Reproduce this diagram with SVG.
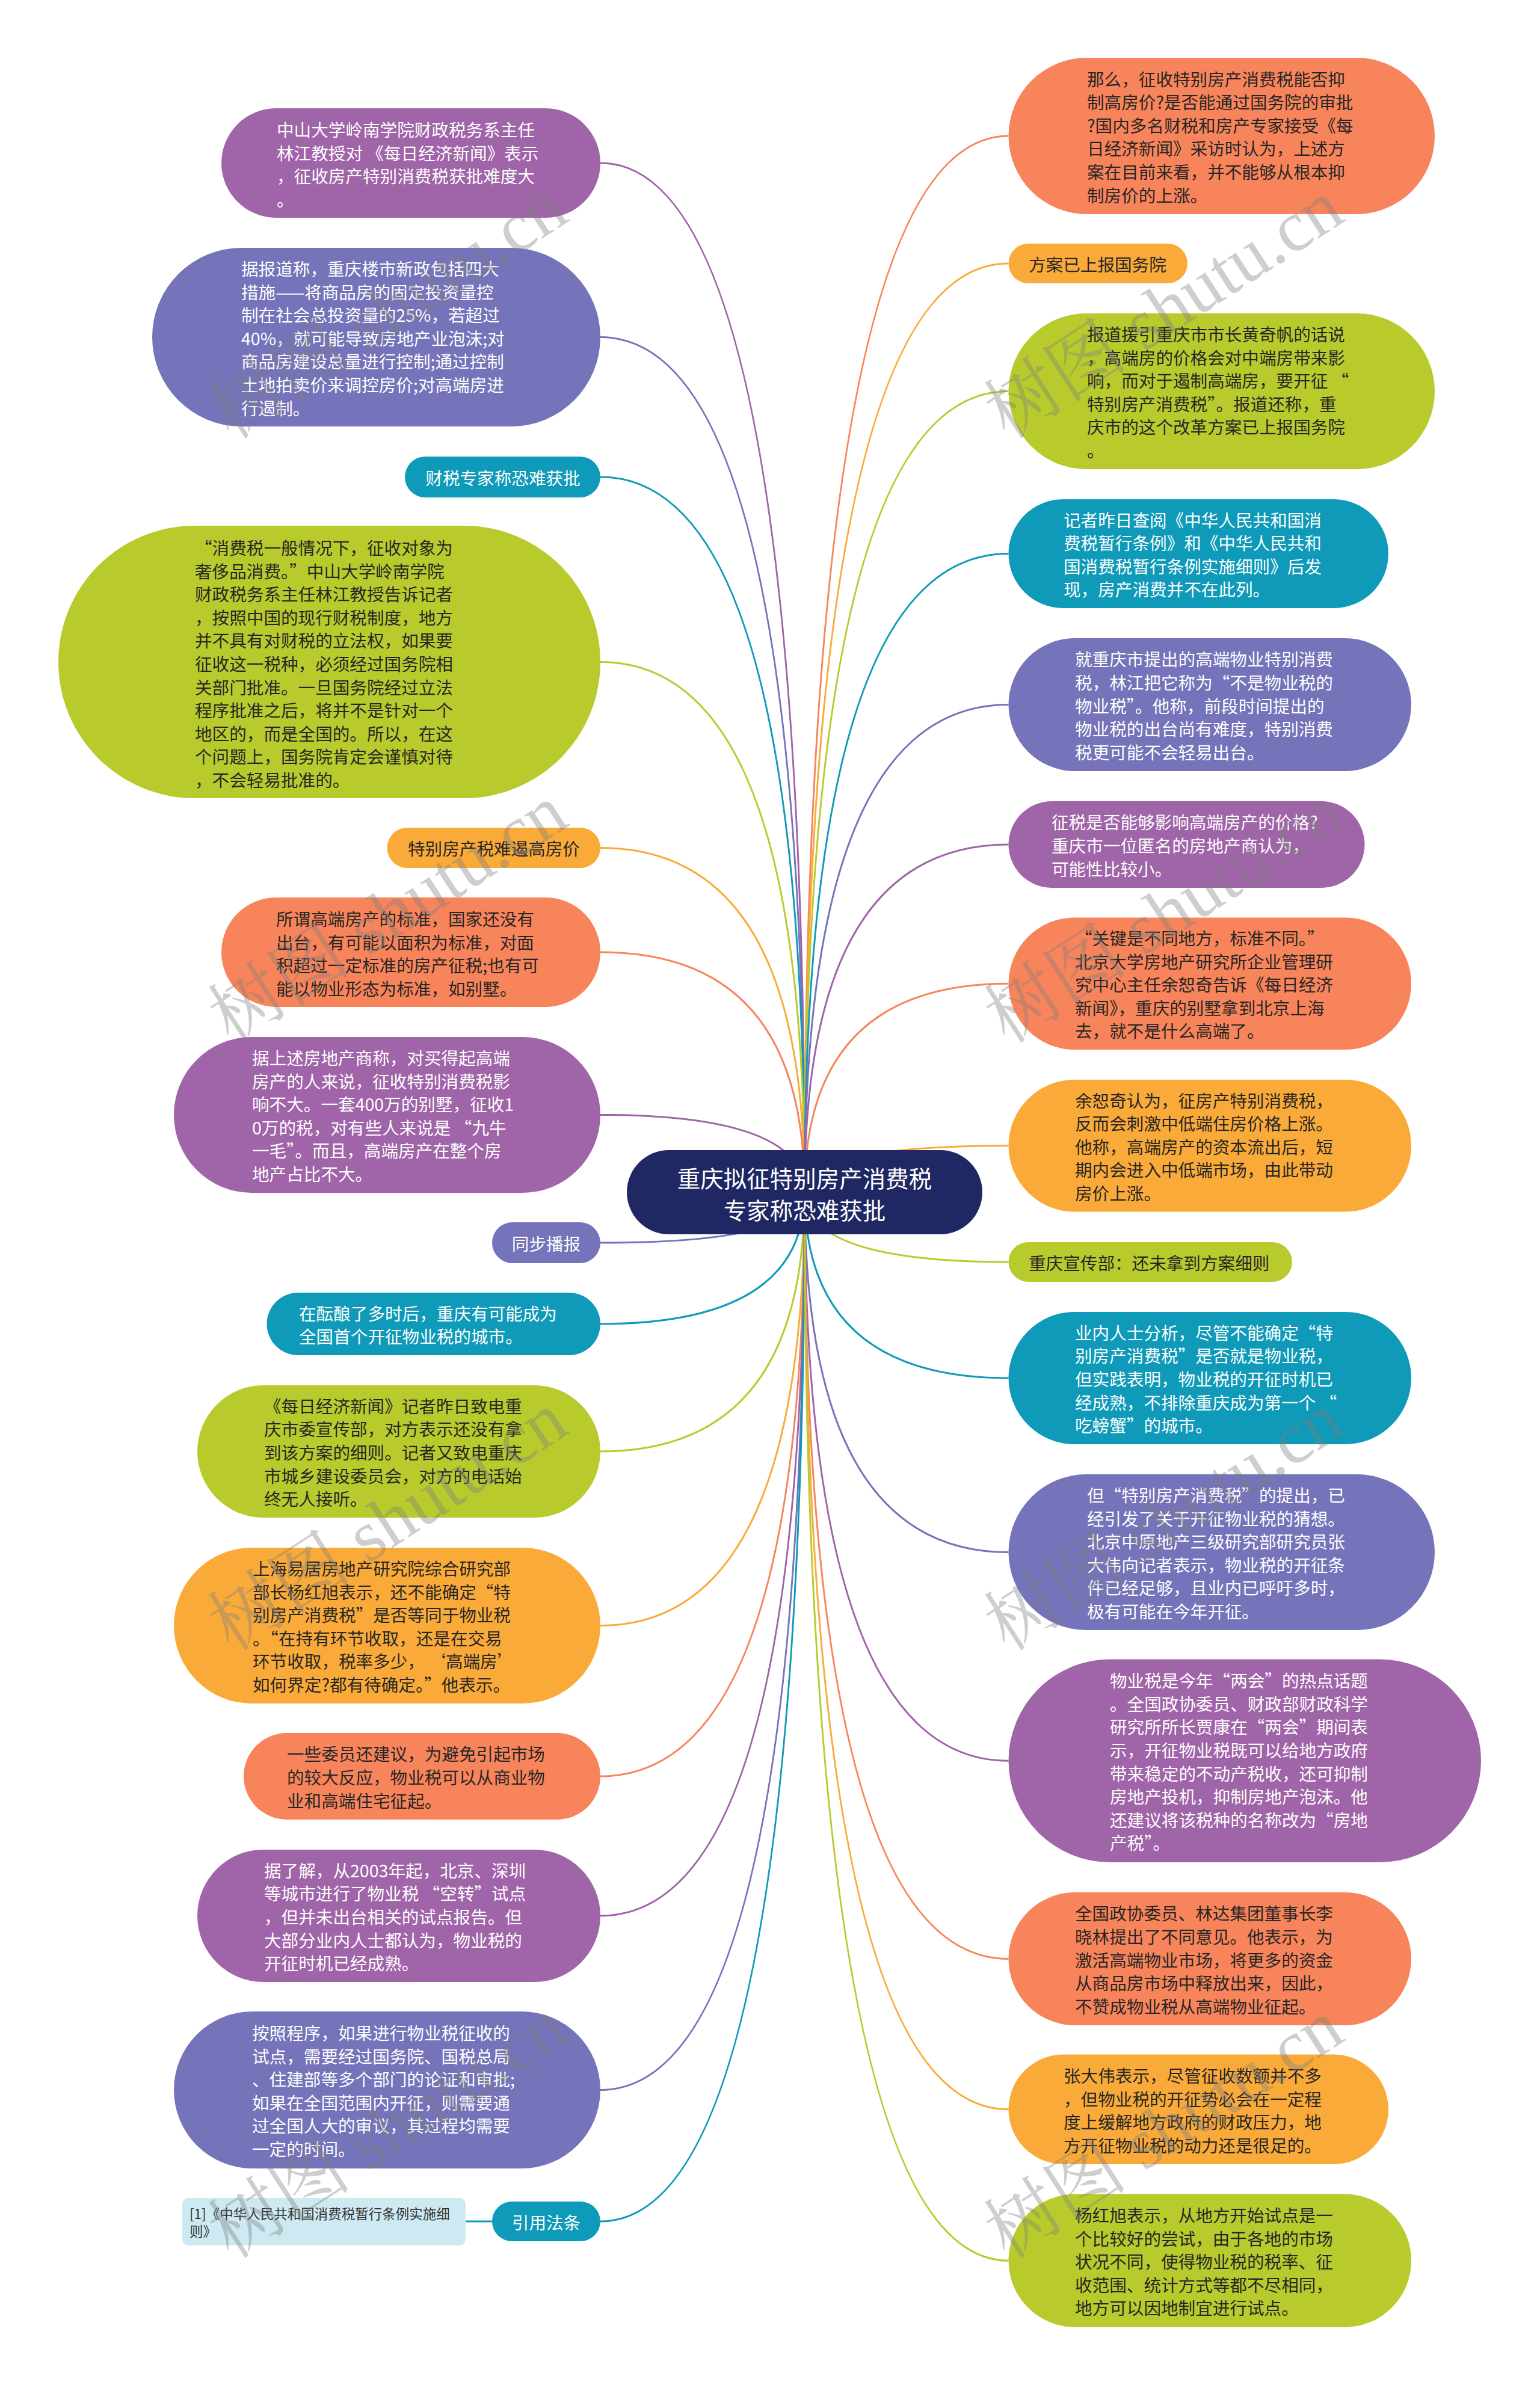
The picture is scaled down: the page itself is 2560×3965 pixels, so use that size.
<svg xmlns="http://www.w3.org/2000/svg" width="2560" height="3965" viewBox="0 0 2560 3965">
<style>
text{font-family:"Noto Sans CJK SC","Noto Sans",sans-serif;font-size:28.6px;dominant-baseline:central}
.w{fill:#ffffff}.d{fill:#262626}
.c{text-anchor:middle}
.pu{fill:#a064a8}.bp{fill:#7573b9}.te{fill:#0e9ab8}.gr{fill:#b8ca2c}.oy{fill:#faaa38}.or{fill:#f7845a}
#links path{fill:none;stroke-width:3}
.spu{stroke:#a064a8}.sbp{stroke:#7573b9}.ste{stroke:#0e9ab8}.sgr{stroke:#b8ca2c}.soy{stroke:#faaa38}.sor{stroke:#f7845a}
.wm{font-family:"Liberation Serif","Noto Serif CJK SC","Noto Sans CJK SC",serif;font-size:120px;fill:#7f7f7f;opacity:0.38;text-anchor:middle}
</style>
<rect width="2560" height="3965" fill="#ffffff"/>
<g id="links">
<path class="spu" d="M1337.5,1982 Q1337.5,271 998,271"/>
<path class="sbp" d="M1337.5,1982 Q1337.5,560.5 998,560.5"/>
<path class="ste" d="M1337.5,1982 Q1337.5,793 998,793"/>
<path class="sgr" d="M1337.5,1982 Q1337.5,1100.5 998,1100.5"/>
<path class="soy" d="M1337.5,1982 Q1337.5,1409.5 998,1409.5"/>
<path class="sor" d="M1337.5,1982 Q1337.5,1583 998,1583"/>
<path class="spu" d="M1337.5,1982 Q1337.5,1853.5 998,1853.5"/>
<path class="sbp" d="M1337.5,1982 Q1337.5,2066 998,2066"/>
<path class="ste" d="M1337.5,1982 Q1337.5,2201 998,2201"/>
<path class="sgr" d="M1337.5,1982 Q1337.5,2413 998,2413"/>
<path class="soy" d="M1337.5,1982 Q1337.5,2702.5 998,2702.5"/>
<path class="sor" d="M1337.5,1982 Q1337.5,2953 998,2953"/>
<path class="spu" d="M1337.5,1982 Q1337.5,3185 998,3185"/>
<path class="sbp" d="M1337.5,1982 Q1337.5,3474.5 998,3474.5"/>
<path class="ste" d="M1337.5,1982 Q1337.5,3693 998,3693"/>
<path class="ste" d="M818,3693 L774,3693"/>
<path class="sor" d="M1337.5,1982 Q1337.5,226 1676.5,226"/>
<path class="soy" d="M1337.5,1982 Q1337.5,438 1676.5,438"/>
<path class="sgr" d="M1337.5,1982 Q1337.5,650.5 1676.5,650.5"/>
<path class="ste" d="M1337.5,1982 Q1337.5,920.5 1676.5,920.5"/>
<path class="sbp" d="M1337.5,1982 Q1337.5,1171.5 1676.5,1171.5"/>
<path class="spu" d="M1337.5,1982 Q1337.5,1404 1676.5,1404"/>
<path class="sor" d="M1337.5,1982 Q1337.5,1635.25 1676.5,1635.25"/>
<path class="soy" d="M1337.5,1982 Q1337.5,1904.75 1676.5,1904.75"/>
<path class="sgr" d="M1337.5,1982 Q1337.5,2098 1676.5,2098"/>
<path class="ste" d="M1337.5,1982 Q1337.5,2291 1676.5,2291"/>
<path class="sbp" d="M1337.5,1982 Q1337.5,2580.5 1676.5,2580.5"/>
<path class="spu" d="M1337.5,1982 Q1337.5,2927.25 1676.5,2927.25"/>
<path class="sor" d="M1337.5,1982 Q1337.5,3256.5 1676.5,3256.5"/>
<path class="soy" d="M1337.5,1982 Q1337.5,3506.75 1676.5,3506.75"/>
<path class="sgr" d="M1337.5,1982 Q1337.5,3758.25 1676.5,3758.25"/>
</g>
<g id="center">
<rect x="1042" y="1912" width="591" height="140" rx="70" fill="#202864"/>
<text class="w c" style="font-size:38.5px"><tspan x="1337.5" y="1957">重庆拟征特别房产消费税</tspan><tspan x="1337.5" y="2010">专家称恐难获批</tspan></text>
</g>
<g id="n1"><rect class="pu" x="368" y="180" width="630" height="182" rx="91"/>
<text class="w"><tspan x="460" y="214">中山大学岭南学院财政税务系主任</tspan><tspan x="460" y="252.6">林江教授对 《每日经济新闻》表示</tspan><tspan x="460" y="291.2">，征收房产特别消费税获批难度大</tspan><tspan x="460" y="329.8">。</tspan></text></g>
<g id="n2"><rect class="bp" x="253" y="412" width="745" height="297" rx="148.5"/>
<text class="w"><tspan x="401" y="445">据报道称，重庆楼市新政包括四大</tspan><tspan x="401" y="483.6">措施——将商品房的固定投资量控</tspan><tspan x="401" y="522.2">制在社会总投资量的25%，若超过</tspan><tspan x="401" y="560.8">40%，就可能导致房地产业泡沫;对</tspan><tspan x="401" y="599.4">商品房建设总量进行控制;通过控制</tspan><tspan x="401" y="638">土地拍卖价来调控房价;对高端房进</tspan><tspan x="401" y="676.6">行遏制。</tspan></text></g>
<g id="n3"><rect class="te" x="673" y="759" width="325" height="68" rx="34"/>
<text class="w c" x="836" y="793">财税专家称恐难获批</text></g>
<g id="n4"><rect class="gr" x="97" y="874" width="901" height="453" rx="226.5"/>
<text class="d"><tspan x="324" y="909">“消费税一般情况下，征收对象为</tspan><tspan x="324" y="947.6">奢侈品消费。”中山大学岭南学院</tspan><tspan x="324" y="986.2">财政税务系主任林江教授告诉记者</tspan><tspan x="324" y="1024.8">，按照中国的现行财税制度，地方</tspan><tspan x="324" y="1063.4">并不具有对财税的立法权，如果要</tspan><tspan x="324" y="1102">征收这一税种，必须经过国务院相</tspan><tspan x="324" y="1140.6">关部门批准。一旦国务院经过立法</tspan><tspan x="324" y="1179.2">程序批准之后，将并不是针对一个</tspan><tspan x="324" y="1217.8">地区的，而是全国的。所以，在这</tspan><tspan x="324" y="1256.4">个问题上，国务院肯定会谨慎对待</tspan><tspan x="324" y="1295">，不会轻易批准的。</tspan></text></g>
<g id="n5"><rect class="oy" x="643.5" y="1376" width="354.5" height="67" rx="33.5"/>
<text class="d c" x="821" y="1409.5">特别房产税难遏高房价</text></g>
<g id="n6"><rect class="or" x="368" y="1492" width="630" height="182" rx="91"/>
<text class="d"><tspan x="459" y="1526">所谓高端房产的标准，国家还没有</tspan><tspan x="459" y="1564.6">出台，有可能以面积为标准，对面</tspan><tspan x="459" y="1603.2">积超过一定标准的房产征税;也有可</tspan><tspan x="459" y="1641.8">能以物业形态为标准，如别墅。</tspan></text></g>
<g id="n7"><rect class="pu" x="289" y="1724" width="709" height="259" rx="129.5"/>
<text class="w"><tspan x="419" y="1757">据上述房地产商称，对买得起高端</tspan><tspan x="419" y="1795.6">房产的人来说，征收特别消费税影</tspan><tspan x="419" y="1834.2">响不大。一套400万的别墅，征收1</tspan><tspan x="419" y="1872.8">0万的税，对有些人来说是 “九牛</tspan><tspan x="419" y="1911.4">一毛”。而且，高端房产在整个房</tspan><tspan x="419" y="1950">地产占比不大。</tspan></text></g>
<g id="n8"><rect class="bp" x="818" y="2032" width="180" height="68" rx="34"/>
<text class="w c" x="908" y="2066">同步播报</text></g>
<g id="n9"><rect class="te" x="443.5" y="2149" width="554.5" height="104" rx="52"/>
<text class="w"><tspan x="497" y="2181.7">在酝酿了多时后，重庆有可能成为</tspan><tspan x="497" y="2220.3">全国首个开征物业税的城市。</tspan></text></g>
<g id="n10"><rect class="gr" x="328" y="2303" width="670" height="220" rx="110"/>
<text class="d"><tspan x="439" y="2335.8">《每日经济新闻》记者昨日致电重</tspan><tspan x="439" y="2374.4">庆市委宣传部，对方表示还没有拿</tspan><tspan x="439" y="2413">到该方案的细则。记者又致电重庆</tspan><tspan x="439" y="2451.6">市城乡建设委员会，对方的电话始</tspan><tspan x="439" y="2490.2">终无人接听。</tspan></text></g>
<g id="n11"><rect class="oy" x="289" y="2573" width="709" height="259" rx="129.5"/>
<text class="d"><tspan x="420" y="2606">上海易居房地产研究院综合研究部</tspan><tspan x="420" y="2644.6">部长杨红旭表示，还不能确定“特</tspan><tspan x="420" y="2683.2">别房产消费税”是否等同于物业税</tspan><tspan x="420" y="2721.8">。“在持有环节收取，还是在交易</tspan><tspan x="420" y="2760.4">环节收取，税率多少， ‘高端房’</tspan><tspan x="420" y="2799">如何界定?都有待确定。”他表示。</tspan></text></g>
<g id="n12"><rect class="or" x="405" y="2881" width="593" height="144" rx="72"/>
<text class="d"><tspan x="477" y="2914.4">一些委员还建议，为避免引起市场</tspan><tspan x="477" y="2953">的较大反应，物业税可以从商业物</tspan><tspan x="477" y="2991.6">业和高端住宅征起。</tspan></text></g>
<g id="n13"><rect class="pu" x="328" y="3075" width="670" height="220" rx="110"/>
<text class="w"><tspan x="439" y="3107.8">据了解，从2003年起，北京、深圳</tspan><tspan x="439" y="3146.4">等城市进行了物业税 “空转”试点</tspan><tspan x="439" y="3185">，但并未出台相关的试点报告。但</tspan><tspan x="439" y="3223.6">大部分业内人士都认为，物业税的</tspan><tspan x="439" y="3262.2">开征时机已经成熟。</tspan></text></g>
<g id="n14"><rect class="bp" x="289" y="3344" width="709" height="261" rx="130.5"/>
<text class="w"><tspan x="419" y="3378">按照程序，如果进行物业税征收的</tspan><tspan x="419" y="3416.6">试点，需要经过国务院、国税总局</tspan><tspan x="419" y="3455.2">、住建部等多个部门的论证和审批;</tspan><tspan x="419" y="3493.8">如果在全国范围内开征，则需要通</tspan><tspan x="419" y="3532.4">过全国人大的审议，其过程均需要</tspan><tspan x="419" y="3571">一定的时间。</tspan></text></g>
<g id="n15"><rect x="303" y="3654" width="471" height="79" rx="10" fill="#cdeaf3"/>
<text style="font-size:22.5px;fill:#333333"><tspan x="315" y="3679">[1]《中华人民共和国消费税暂行条例实施细</tspan><tspan x="315" y="3708">则》</tspan></text></g>
<g id="n16"><rect class="te" x="818" y="3660" width="180" height="66" rx="33"/>
<text class="w c" x="908" y="3693">引用法条</text></g>
<g id="r1"><rect class="or" x="1676.5" y="96" width="708.5" height="260" rx="130"/>
<text class="d"><tspan x="1807" y="129.5">那么，征收特别房产消费税能否抑</tspan><tspan x="1807" y="168.1">制高房价?是否能通过国务院的审批</tspan><tspan x="1807" y="206.7">?国内多名财税和房产专家接受《每</tspan><tspan x="1807" y="245.3">日经济新闻》采访时认为，上述方</tspan><tspan x="1807" y="283.9">案在目前来看，并不能够从根本抑</tspan><tspan x="1807" y="322.5">制房价的上涨。</tspan></text></g>
<g id="r2"><rect class="oy" x="1676.5" y="405" width="297.5" height="66" rx="33"/>
<text class="d" x="1710" y="438">方案已上报国务院</text></g>
<g id="r3"><rect class="gr" x="1676.5" y="521" width="708.5" height="259" rx="129.5"/>
<text class="d"><tspan x="1807" y="554">报道援引重庆市市长黄奇帆的话说</tspan><tspan x="1807" y="592.6">，高端房的价格会对中端房带来影</tspan><tspan x="1807" y="631.2">响，而对于遏制高端房，要开征 “</tspan><tspan x="1807" y="669.8">特别房产消费税”。报道还称，重</tspan><tspan x="1807" y="708.4">庆市的这个改革方案已上报国务院</tspan><tspan x="1807" y="747">。</tspan></text></g>
<g id="r4"><rect class="te" x="1676.5" y="830" width="631.5" height="181" rx="90.5"/>
<text class="w"><tspan x="1768" y="862.6">记者昨日查阅《中华人民共和国消</tspan><tspan x="1768" y="901.2">费税暂行条例》和《中华人民共和</tspan><tspan x="1768" y="939.8">国消费税暂行条例实施细则》后发</tspan><tspan x="1768" y="978.4">现，房产消费并不在此列。</tspan></text></g>
<g id="r5"><rect class="bp" x="1676.5" y="1061" width="669.5" height="221" rx="110.5"/>
<text class="w"><tspan x="1787" y="1094.3">就重庆市提出的高端物业特别消费</tspan><tspan x="1787" y="1132.9">税，林江把它称为“不是物业税的</tspan><tspan x="1787" y="1171.5">物业税”。他称，前段时间提出的</tspan><tspan x="1787" y="1210.1">物业税的出台尚有难度，特别消费</tspan><tspan x="1787" y="1248.7">税更可能不会轻易出台。</tspan></text></g>
<g id="r6"><rect class="pu" x="1676.5" y="1332" width="592" height="144" rx="72"/>
<text class="w"><tspan x="1748" y="1365.4">征税是否能够影响高端房产的价格?</tspan><tspan x="1748" y="1404">重庆市一位匿名的房地产商认为，</tspan><tspan x="1748" y="1442.6">可能性比较小。</tspan></text></g>
<g id="r7"><rect class="or" x="1676.5" y="1525.5" width="669.5" height="219.5" rx="109.75"/>
<text class="d"><tspan x="1787" y="1558">“关键是不同地方，标准不同。”</tspan><tspan x="1787" y="1596.6">北京大学房地产研究所企业管理研</tspan><tspan x="1787" y="1635.2">究中心主任余恕奇告诉《每日经济</tspan><tspan x="1787" y="1673.8">新闻》，重庆的别墅拿到北京上海</tspan><tspan x="1787" y="1712.4">去，就不是什么高端了。</tspan></text></g>
<g id="r8"><rect class="oy" x="1676.5" y="1795" width="669.5" height="219.5" rx="109.75"/>
<text class="d"><tspan x="1787" y="1827.5">余恕奇认为，征房产特别消费税，</tspan><tspan x="1787" y="1866.1">反而会刺激中低端住房价格上涨。</tspan><tspan x="1787" y="1904.7">他称，高端房产的资本流出后，短</tspan><tspan x="1787" y="1943.3">期内会进入中低端市场，由此带动</tspan><tspan x="1787" y="1981.9">房价上涨。</tspan></text></g>
<g id="r9"><rect class="gr" x="1676.5" y="2065" width="471.5" height="66" rx="33"/>
<text class="d" x="1710" y="2098">重庆宣传部：还未拿到方案细则</text></g>
<g id="r10"><rect class="te" x="1676.5" y="2181" width="669.5" height="220" rx="110"/>
<text class="w"><tspan x="1787" y="2213.8">业内人士分析，尽管不能确定“特</tspan><tspan x="1787" y="2252.4">别房产消费税”是否就是物业税，</tspan><tspan x="1787" y="2291">但实践表明，物业税的开征时机已</tspan><tspan x="1787" y="2329.6">经成熟，不排除重庆成为第一个 “</tspan><tspan x="1787" y="2368.2">吃螃蟹”的城市。</tspan></text></g>
<g id="r11"><rect class="bp" x="1676.5" y="2451" width="708.5" height="259" rx="129.5"/>
<text class="w"><tspan x="1807" y="2484">但“特别房产消费税”的提出，已</tspan><tspan x="1807" y="2522.6">经引发了关于开征物业税的猜想。</tspan><tspan x="1807" y="2561.2">北京中原地产三级研究部研究员张</tspan><tspan x="1807" y="2599.8">大伟向记者表示，物业税的开征条</tspan><tspan x="1807" y="2638.4">件已经足够，且业内已呼吁多时，</tspan><tspan x="1807" y="2677">极有可能在今年开征。</tspan></text></g>
<g id="r12"><rect class="pu" x="1676.5" y="2758.5" width="785.5" height="337.5" rx="168.75"/>
<text class="w"><tspan x="1845" y="2792.2">物业税是今年“两会”的热点话题</tspan><tspan x="1845" y="2830.8">。全国政协委员、财政部财政科学</tspan><tspan x="1845" y="2869.4">研究所所长贾康在“两会”期间表</tspan><tspan x="1845" y="2908">示，开征物业税既可以给地方政府</tspan><tspan x="1845" y="2946.6">带来稳定的不动产税收，还可抑制</tspan><tspan x="1845" y="2985.2">房地产投机，抑制房地产泡沫。他</tspan><tspan x="1845" y="3023.8">还建议将该税种的名称改为“房地</tspan><tspan x="1845" y="3062.4">产税”。</tspan></text></g>
<g id="r13"><rect class="or" x="1676.5" y="3146" width="669.5" height="221" rx="110.5"/>
<text class="d"><tspan x="1787" y="3179.3">全国政协委员、林达集团董事长李</tspan><tspan x="1787" y="3217.9">晓林提出了不同意见。他表示，为</tspan><tspan x="1787" y="3256.5">激活高端物业市场，将更多的资金</tspan><tspan x="1787" y="3295.1">从商品房市场中释放出来，因此，</tspan><tspan x="1787" y="3333.7">不赞成物业税从高端物业征起。</tspan></text></g>
<g id="r14"><rect class="oy" x="1676.5" y="3415.5" width="631.5" height="182.5" rx="91.25"/>
<text class="d"><tspan x="1768" y="3448.9">张大伟表示，尽管征收数额并不多</tspan><tspan x="1768" y="3487.5">，但物业税的开征势必会在一定程</tspan><tspan x="1768" y="3526.1">度上缓解地方政府的财政压力，地</tspan><tspan x="1768" y="3564.7">方开征物业税的动力还是很足的。</tspan></text></g>
<g id="r15"><rect class="gr" x="1676.5" y="3647.5" width="669.5" height="221.5" rx="110.75"/>
<text class="d"><tspan x="1787" y="3681">杨红旭表示，从地方开始试点是一</tspan><tspan x="1787" y="3719.6">个比较好的尝试，由于各地的市场</tspan><tspan x="1787" y="3758.2">状况不同，使得物业税的税率、征</tspan><tspan x="1787" y="3796.8">收范围、统计方式等都不尽相同，</tspan><tspan x="1787" y="3835.4">地方可以因地制宜进行试点。</tspan></text></g>
<g id="watermark">
<text class="wm" x="645" y="515" transform="rotate(-33 645 515)">树图 shutu.cn</text>
<text class="wm" x="1935" y="515" transform="rotate(-33 1935 515)">树图 shutu.cn</text>
<text class="wm" x="645" y="1520" transform="rotate(-33 645 1520)">树图 shutu.cn</text>
<text class="wm" x="1935" y="1520" transform="rotate(-33 1935 1520)">树图 shutu.cn</text>
<text class="wm" x="645" y="2530" transform="rotate(-33 645 2530)">树图 shutu.cn</text>
<text class="wm" x="1935" y="2530" transform="rotate(-33 1935 2530)">树图 shutu.cn</text>
<text class="wm" x="645" y="3540" transform="rotate(-33 645 3540)">树图 shutu.cn</text>
<text class="wm" x="1935" y="3540" transform="rotate(-33 1935 3540)">树图 shutu.cn</text>
</g>
</svg>
